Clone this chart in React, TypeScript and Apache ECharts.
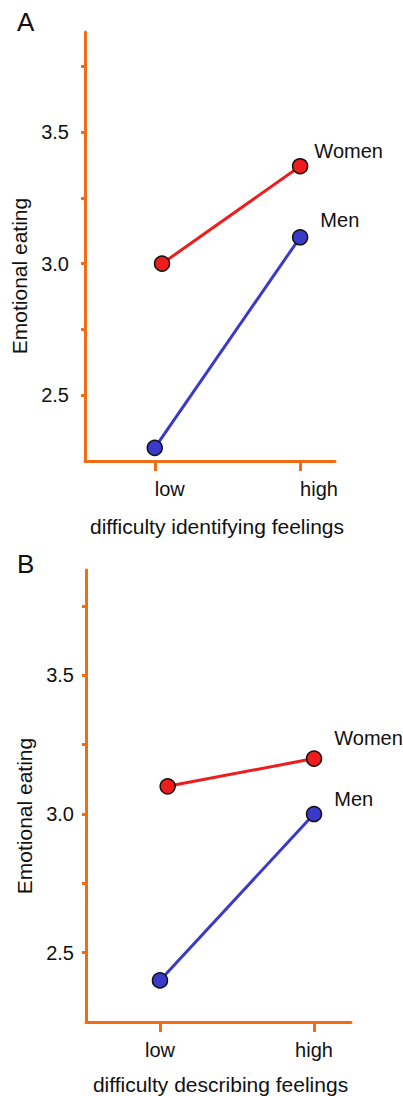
import React, { useEffect, useRef } from "react";
import * as echarts from "echarts";

// ---- data ----
const xLevels = [1, 2];
const xLabels = ["low", "high"];
const womenXOffset = [0.05, 0];
const seriesNames = ["Women", "Men"];

const womenA = [3.0, 3.37];
const menA = [2.3, 3.1];
const womenB = [3.1, 3.2];
const menB = [2.4, 3.0];

const yTicks = [2.5, 2.75, 3.0, 3.25, 3.5, 3.75];
const yTickLabels = [2.5, 3.0, 3.5];
const panelLetters = ["A", "B"];
const xNames = ["difficulty identifying feelings", "difficulty describing feelings"];
const yName = "Emotional eating";

const ORANGE = "#f26b15";
const RED = "#ee1c1c";
const BLUE = "#3a3ac8";
const FONT = "Liberation Sans, Arial, Helvetica, sans-serif";

export default function App() {
  const ref = useRef<HTMLDivElement>(null);
  useEffect(() => {
    if (!ref.current) return;
    const chart = echarts.init(ref.current, undefined, { renderer: "svg" });

    const grids = [
      { left: 85, top: 32, width: 250, height: 429 },
      { left: 86, top: 570, width: 265, height: 457 },
    ];
    const yLabelMargin = [16, 12];
    const yNamePad = [59, 40];
    const xLabelAlign = ["left", "center"];
    const xNameGap = [55, 52];
    const xNamePad = [14, 4];

    const xAxes = grids.map((_, i) => ({
      type: "value",
      gridIndex: i,
      min: 0.52,
      max: 2.24,
      name: xNames[i],
      nameLocation: "middle",
      nameGap: xNameGap[i],
      nameTextStyle: { fontSize: 21, color: "#111", fontFamily: FONT, padding: [0, 0, 0, xNamePad[i]] },
      axisLine: { show: true, lineStyle: { color: ORANGE, width: 3 } },
      axisTick: { show: true, customValues: xLevels, length: 10, lineStyle: { color: ORANGE, width: 3 } },
      axisLabel: {
        customValues: xLevels,
        formatter: (v: number) => xLabels[xLevels.indexOf(v)] ?? "",
        fontSize: 20,
        color: "#111",
        fontFamily: FONT,
        margin: 18,
        align: xLabelAlign[i],
      },
      splitLine: { show: false },
    }));

    const yAxes = grids.map((_, i) => ({
      type: "value",
      gridIndex: i,
      min: 2.25,
      max: 3.88,
      name: yName,
      nameLocation: "middle",
      nameGap: 50,
      nameTextStyle: { fontSize: 21, color: "#111", fontFamily: FONT, padding: [0, yNamePad[i], 0, 0] },
      axisLine: { show: true, lineStyle: { color: ORANGE, width: 3 } },
      axisTick: { show: true, customValues: yTicks, length: 4, lineStyle: { color: ORANGE, width: 3 } },
      axisLabel: {
        customValues: yTickLabels,
        formatter: (v: number) => v.toFixed(1),
        fontSize: 20,
        color: "#111",
        fontFamily: FONT,
        margin: yLabelMargin[i],
      },
      splitLine: { show: false },
    }));

    const panels = [
      { women: womenA, men: menA, wOff: [1, -15], mOff: [7, -17] },
      { women: womenB, men: menB, wOff: [7, -21], mOff: [7, -15] },
    ];

    const series: any[] = [];
    panels.forEach((p, i) => {
      [
        { vals: p.women, color: RED, name: seriesNames[0], off: p.wOff, dx: womenXOffset },
        { vals: p.men, color: BLUE, name: seriesNames[1], off: p.mOff, dx: [0, 0] },
      ].forEach((s) => {
        series.push({
          type: "line",
          name: s.name,
          xAxisIndex: i,
          yAxisIndex: i,
          symbol: "circle",
          symbolSize: 15,
          z: 3,
          itemStyle: { color: s.color, borderColor: "#111", borderWidth: 1.5 },
          lineStyle: { color: s.color, width: 3 },
          data: s.vals.map((v, k) => {
            const item: any = { value: [xLevels[k] + s.dx[k], v] };
            if (k === s.vals.length - 1) {
              item.label = {
                show: true,
                position: "right",
                offset: s.off,
                formatter: "{a}",
                fontSize: 20,
                color: "#111",
                fontFamily: FONT,
              };
            }
            return item;
          }),
        });
      });
    });

    chart.setOption({
      animation: false,
      backgroundColor: "#fff",
      grid: grids,
      xAxis: xAxes,
      yAxis: yAxes,
      series,
      graphic: [
        { type: "text", left: 17, top: 9, style: { text: panelLetters[0], fontSize: 26, fill: "#111", fontFamily: FONT } },
        { type: "text", left: 17, top: 551, style: { text: panelLetters[1], fontSize: 26, fill: "#111", fontFamily: FONT } },
      ],
    });
    return () => chart.dispose();
  }, []);
  return (
    <div
      ref={ref}
      style={{ position: "absolute", left: 0, top: 0, width: 403, height: 1096 }}
    />
  );
}
